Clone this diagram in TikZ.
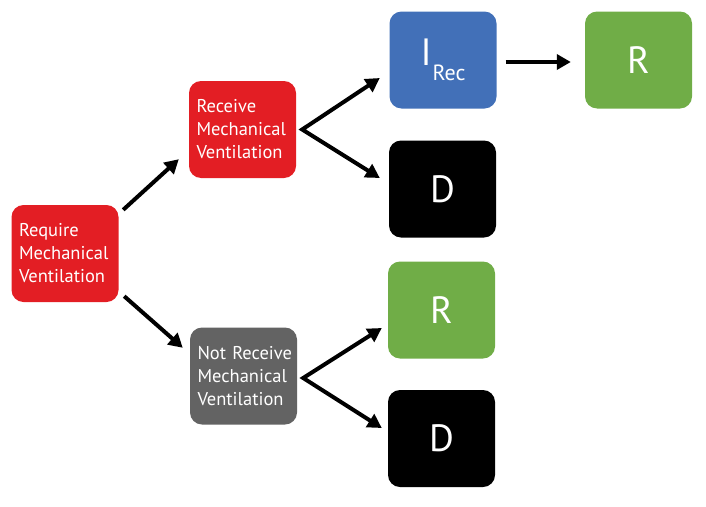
\documentclass[tikz,border=0pt]{standalone}
\usepackage{fontspec}
\setmainfont{PT Sans}
\usetikzlibrary{arrows.meta,calc}
\definecolor{mvred}{HTML}{E31E24}
\definecolor{mvblue}{HTML}{4270B8}
\definecolor{mvgreen}{HTML}{70AD47}
\definecolor{mvgray}{HTML}{636363}
\newcommand{\lblfont}{\fontsize{18.5}{23}\selectfont}
\newcommand{\letterfont}{\fontsize{38}{40}\selectfont}

\begin{document}
\begin{tikzpicture}[x=1pt, y=-1pt,
	box/.style={rounded corners=12pt, minimum width=107pt, minimum height=97pt,
	inner sep=0pt, text=white},
	txtbox/.style={box, text width=92pt, align=left, font=\lblfont},
	letter/.style={box, font=\letterfont},
	arr/.style={line width=4pt, line join=miter, -{Triangle[length=14pt,width=15pt]}}]
\useasboundingbox (0,0) rectangle (706,506);
\node [txtbox, fill=mvred] (req) at (65, 253.5) {Require\\Mechanical\\Ventilation};
\node [txtbox, fill=mvred] (recv) at (242.5, 129.5) {Receive\\Mechanical\\Ventilation};
\node [txtbox, fill=mvgray] (norecv) at (243.5, 376) {\mbox{Not Receive}\\Mechanical\\Ventilation};
\node [letter, fill=mvblue] (irec) at (443, 60) {I\kern1pt\raisebox{-15pt}{\fontsize{22}{24}\selectfont Rec}};
\node [letter, fill=black] (dtop) at (442.5, 189) {D};
\node [letter, fill=mvgreen] (rmid) at (441.5, 310) {R};
\node [letter, fill=black] (dbot) at (441.5, 438.5) {D};
\node [letter, fill=mvgreen] (rend) at (638.5, 60) {R};
% arrows
\draw[arr] ($(req.north east)+(4.5,5)$) -- ($(recv.south west)+(-10,-19)$);
\draw[arr] ($(req.south east)+(5.5,-6)$) -- ($(norecv.north west)+(-7,20.5)$);
\draw[arr, {Triangle[length=14pt,width=15pt]}-{Triangle[length=14pt,width=15pt]}]
	($(irec.west)+(-9.5,18)$) -- ($(recv.east)+(6,0)$) -- ($(dtop.west)+(-9,-11)$);
\draw[arr, {Triangle[length=14pt,width=15pt]}-{Triangle[length=14pt,width=15pt]}]
	($(rmid.west)+(-6,18)$) -- ($(norecv.east)+(6,2)$) -- ($(dbot.west)+(-6,-10.5)$);
\draw[arr] ($(irec.east)+(9,2)$) -- ($(rend.west)+(-14,2)$);
\end{tikzpicture}
\end{document}
